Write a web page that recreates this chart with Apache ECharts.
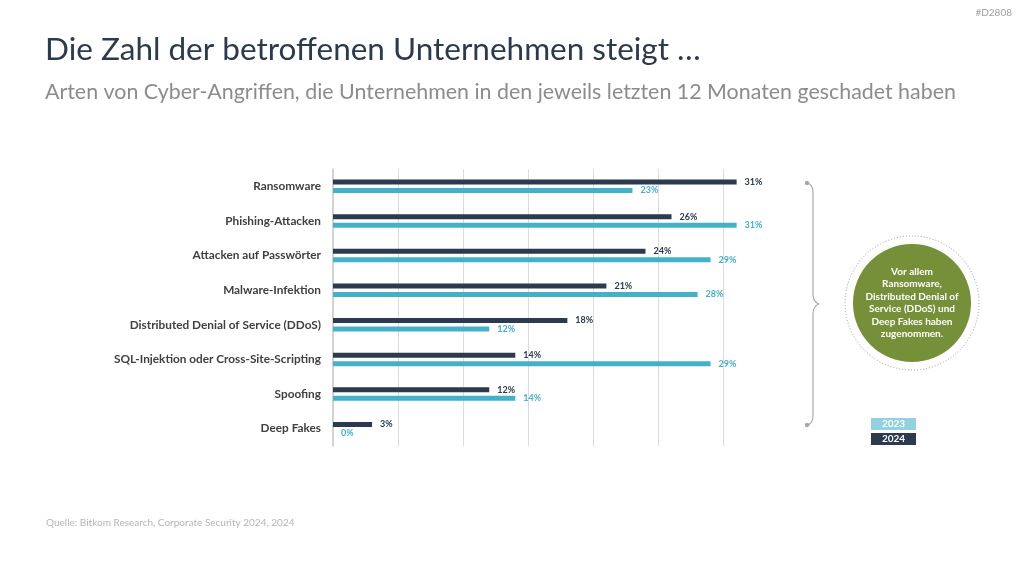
<!DOCTYPE html>
<html>
<head>
<meta charset="utf-8">
<script src="https://cdn.jsdelivr.net/npm/echarts@6/dist/echarts.min.js"></script>
<style>
  html,body{margin:0;padding:0;background:#fff;}
  #chart{width:1024px;height:576px;}
</style>
</head>
<body>
<div id="chart"></div>
<script>
// Daten
var categories = ['Ransomware', 'Phishing-Attacken', 'Attacken auf Passwörter', 'Malware-Infektion',
  'Distributed Denial of Service (DDoS)', 'SQL-Injektion oder Cross-Site-Scripting', 'Spoofing', 'Deep Fakes'];
var values2024 = [31, 26, 24, 21, 18, 14, 12, 3];
var values2023 = [23, 31, 29, 28, 12, 29, 14, 0];
var seriesNames = ['2024', '2023'];

var dark = '#2b3a4e';
var cyan = '#44b1c9';
var grey = '#a8a8a8';
var font = 'Lato';

var chart = echarts.init(document.getElementById('chart'));

var noteLines = ['Vor allem', 'Ransomware,', 'Distributed Denial of', 'Service (DDoS) und', 'Deep Fakes haben', 'zugenommen.'];

// geschweifte Klammer rechts
function curve(x1, y1, cx, cy, x2, y2) {
  return {type: 'bezierCurve', shape: {x1: x1, y1: y1, cpx1: cx, cpy1: cy, x2: x2, y2: y2}, style: {fill: null, stroke: grey, lineWidth: 1.2}};
}
function seg(x1, y1, x2, y2) {
  return {type: 'line', shape: {x1: x1, y1: y1, x2: x2, y2: y2}, style: {stroke: grey, lineWidth: 1.2}};
}
var brace = [
  curve(807, 183, 813, 184, 813, 193),
  seg(813, 193, 813, 294),
  curve(813, 294, 813, 302, 819, 304),
  curve(819, 304, 813, 306, 813, 314),
  seg(813, 314, 813, 415),
  curve(813, 415, 813, 424, 807, 425),
  {type: 'circle', shape: {cx: 807, cy: 183, r: 2.2}, style: {fill: grey}},
  {type: 'circle', shape: {cx: 807, cy: 425, r: 2.2}, style: {fill: grey}}
];

chart.setOption({
  backgroundColor: '#fff',
  textStyle: {fontFamily: font},
  grid: {left: 333, top: 169, width: 455.7, height: 277, containLabel: false},
  xAxis: {
    type: 'value', min: 0, max: 35, interval: 5,
    axisLabel: {show: false},
    axisLine: {show: false},
    axisTick: {show: false},
    splitLine: {lineStyle: {color: ['transparent', '#dcdcdc', '#dcdcdc', '#dcdcdc', '#dcdcdc', '#dcdcdc', '#dcdcdc', 'transparent'], width: 1}}
  },
  yAxis: {
    type: 'category', data: categories, inverse: true,
    axisLine: {show: true, lineStyle: {color: '#c4c4c4', width: 1.5}},
    axisTick: {show: false},
    axisLabel: {fontFamily: font, fontWeight: 'bold', fontSize: 11.8, color: '#404040', margin: 12}
  },
  series: [
    {
      name: seriesNames[0], type: 'bar', data: values2024, barWidth: 5, barGap: '70%',
      itemStyle: {color: dark},
      label: {show: true, position: 'right', distance: 8, formatter: '{c}%', fontFamily: font, fontWeight: 'bold', fontSize: 9, color: dark}
    },
    {
      name: seriesNames[1], type: 'bar', data: values2023, barWidth: 5,
      itemStyle: {color: cyan},
      label: {show: true, position: 'right', distance: 8, formatter: '{c}%', fontFamily: font, fontWeight: 'bold', fontSize: 9, color: cyan}
    }
  ],
  graphic: [
    {type: 'text', left: 45, top: 34, style: {text: 'Die Zahl der betroffenen Unternehmen steigt …', font: '31.5px Lato', fill: dark}},
    {type: 'text', left: 45, top: 82, style: {text: 'Arten von Cyber-Angriffen, die Unternehmen in den jeweils letzten 12 Monaten geschadet haben', font: '21.4px Lato', fill: '#8c8c8c'}},
    {type: 'text', right: 12, top: 8, style: {text: '#D2808', font: '10px Lato', fill: '#a0a0a0'}},
    {type: 'text', left: 46, top: 518, style: {text: 'Quelle: Bitkom Research, Corporate Security 2024, 2024', font: '10px Lato', fill: '#b5b5b5'}},
    {type: 'group', children: brace},
    // Kreis
    {type: 'circle', shape: {cx: 912, cy: 303, r: 67}, style: {fill: null, stroke: '#9a9a9a', lineWidth: 1, lineDash: [1, 2]}},
    {type: 'circle', shape: {cx: 912, cy: 303, r: 59}, style: {fill: '#76903a'}},
    {type: 'text', x: 912, y: 303, style: {text: noteLines.join('\n'), font: 'bold 10px Lato', fill: '#fff', align: 'center', verticalAlign: 'middle', lineHeight: 12.5}},
    // Legende
    {type: 'rect', shape: {x: 871, y: 418, width: 45, height: 12}, style: {fill: '#92d2e0'}},
    {type: 'text', x: 893.5, y: 424, style: {text: '2023', font: 'bold 10px Lato', fill: '#fff', align: 'center', verticalAlign: 'middle'}},
    {type: 'rect', shape: {x: 871, y: 433, width: 45, height: 12}, style: {fill: dark}},
    {type: 'text', x: 893.5, y: 439, style: {text: '2024', font: 'bold 10px Lato', fill: '#fff', align: 'center', verticalAlign: 'middle'}}
  ]
});
</script>
</body>
</html>
